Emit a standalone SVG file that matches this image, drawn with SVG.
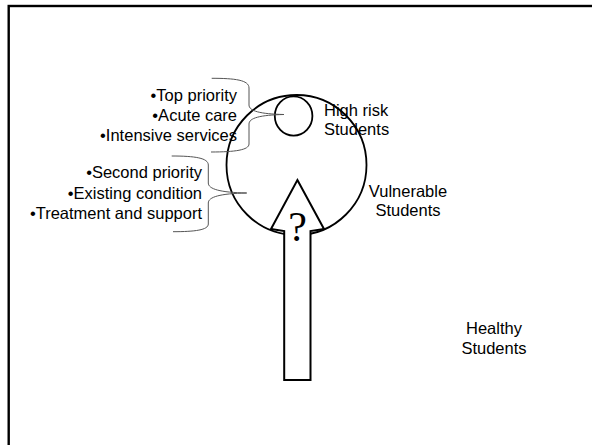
<svg xmlns="http://www.w3.org/2000/svg" width="592" height="445" viewBox="0 0 592 445">
  <style>
    .t { font-family: "Liberation Sans", Arial, sans-serif; font-size: 16.5px; fill: #000; }
    .brace { fill: none; stroke: #555; stroke-width: 1; }
    .shape { fill: none; stroke: #000; stroke-width: 1.8; }
  </style>
  <rect x="0" y="0" width="592" height="445" fill="#fff"/>
  <g id="frame">
    <rect x="8.7" y="6" width="600" height="460" fill="none" stroke="#000" stroke-width="2.4"/>
  </g>
  <g id="vulnerable">
    <circle cx="296.5" cy="165" r="70" class="shape"/>
    <text class="t" x="408" y="196.5" text-anchor="middle">Vulnerable</text>
    <text class="t" x="408" y="216" text-anchor="middle">Students</text>
  </g>
  <g id="highrisk">
    <ellipse cx="293.6" cy="116" rx="18.8" ry="19.6" class="shape"/>
    <text class="t" x="324" y="115.5">High risk</text>
    <text class="t" x="324" y="135">Students</text>
  </g>
  <g id="healthy">
    <text class="t" x="494" y="334" text-anchor="middle">Healthy</text>
    <text class="t" x="494" y="354" text-anchor="middle">Students</text>
  </g>
  <g id="arrow">
    <path d="M297.4,180 L324,229 L310.5,231 L310.5,380 L284.2,380 L284.2,231 L271,229 Z" fill="#fff" stroke="#000" stroke-width="2"/>
    <text x="297.5" y="241" text-anchor="middle" font-family="'Liberation Serif', 'Times New Roman', serif" font-size="42" fill="#000">?</text>
  </g>
  <g id="top-list">
    <text class="t" x="237" y="101" text-anchor="end">•Top priority</text>
    <text class="t" x="237" y="121" text-anchor="end">•Acute care</text>
    <text class="t" x="237" y="141" text-anchor="end">•Intensive services</text>
  </g>
  <g id="second-list">
    <text class="t" x="202" y="178" text-anchor="end">•Second priority</text>
    <text class="t" x="202" y="198.5" text-anchor="end">•Existing condition</text>
    <text class="t" x="202" y="218.5" text-anchor="end">•Treatment and support</text>
  </g>
  <g id="connectors">
    <path class="brace" d="M211.7,78.3 C235,78.3 249,80 249,88 L249,105 C249,111 260,114 284,114.5 C260,115 249,118 249,124 L249,144 C249,150 235,152 211,152"/>
    <path class="brace" d="M171.7,156 C195,156 208.3,158 208.3,165 L208.3,183 C208.3,189 220,192.5 246.7,193 C220,193.5 208.3,197 208.3,203 L208.3,224 C208.3,230 195,231.7 173,231.7"/>
  </g>
</svg>
